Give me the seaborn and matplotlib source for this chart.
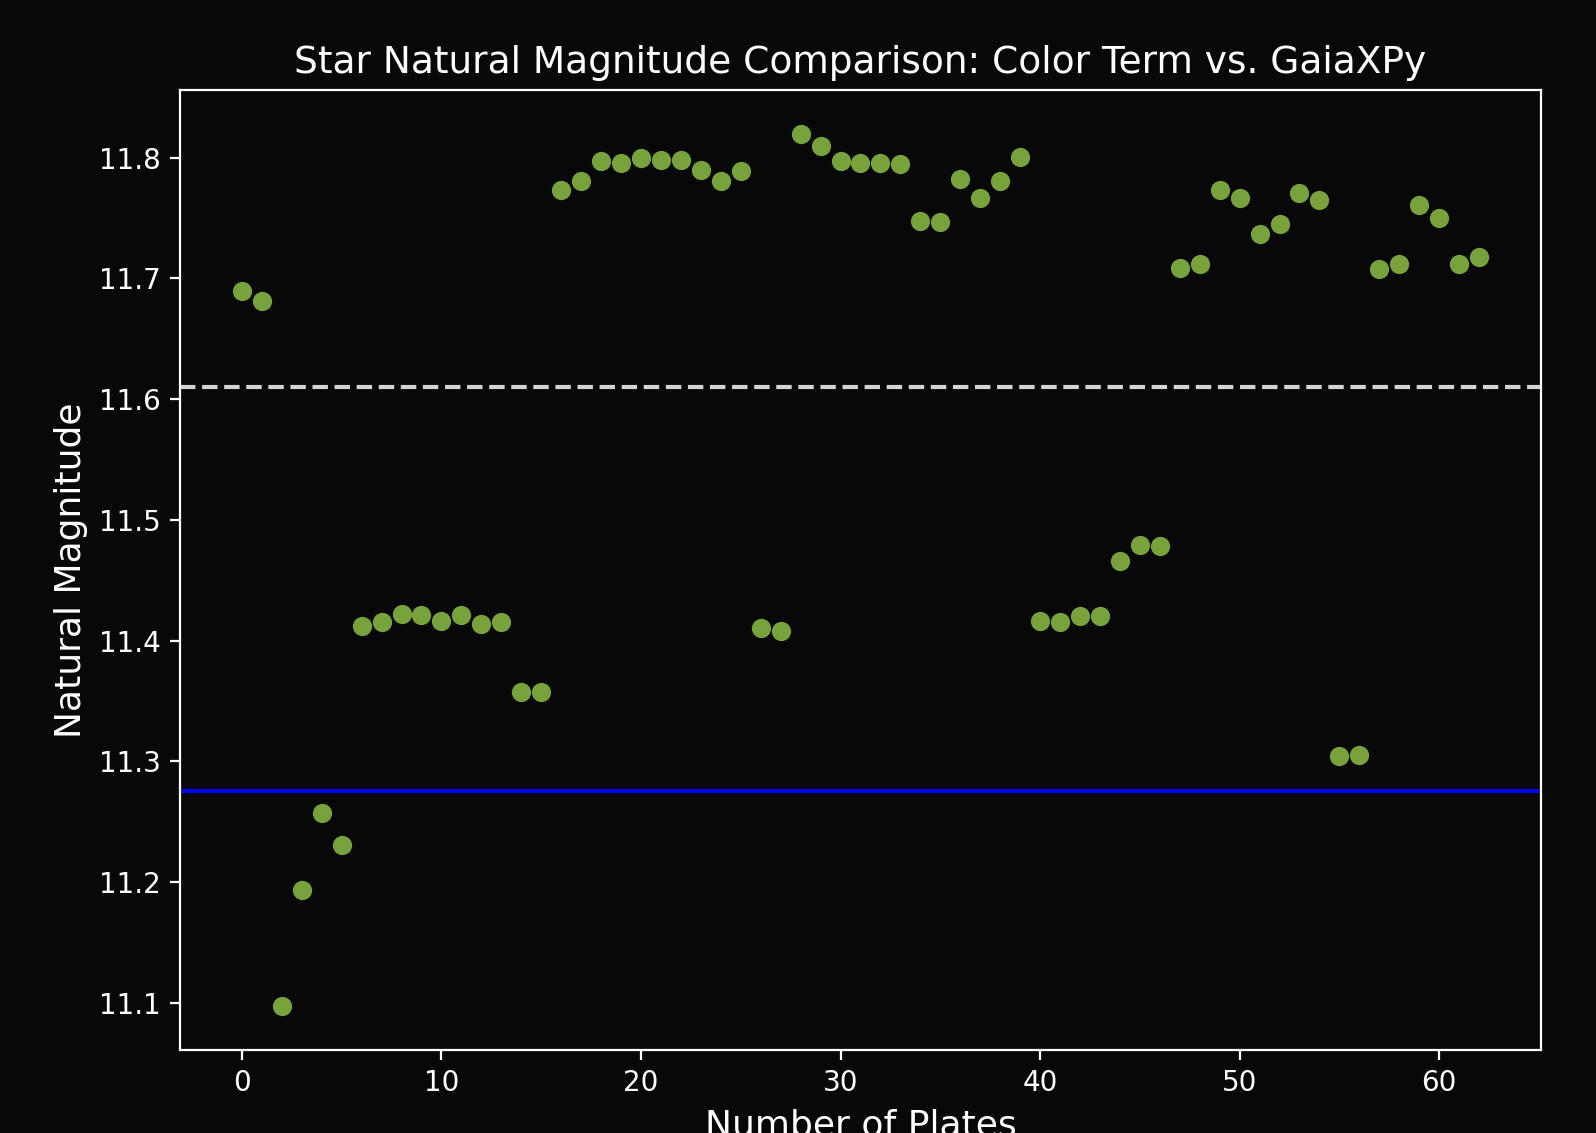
import numpy as np
import pandas as pd
import matplotlib
matplotlib.use("Agg")
import matplotlib.pyplot as plt
import seaborn as sns

plates = list(range(63))
magnitudes = [
    11.690, 11.681, 11.097, 11.193, 11.257, 11.231, 11.412, 11.415, 11.422, 11.421,
    11.416, 11.421, 11.414, 11.415, 11.357, 11.357, 11.773, 11.781, 11.797, 11.796,
    11.800, 11.798, 11.798, 11.790, 11.781, 11.789, 11.410, 11.408, 11.820, 11.810,
    11.797, 11.796, 11.796, 11.795, 11.748, 11.747, 11.782, 11.767, 11.781, 11.801,
    11.416, 11.415, 11.420, 11.420, 11.466, 11.479, 11.478, 11.709, 11.712, 11.773,
    11.767, 11.737, 11.745, 11.771, 11.765, 11.304, 11.305, 11.708, 11.712, 11.761,
    11.750, 11.712, 11.718,
]
colorterm_mean = 11.610
gaiaxpy_value = 11.275

title = "Star Natural Magnitude Comparison: Color Term vs. GaiaXPy"
xlabel = "Number of Plates"
ylabel = "Natural Magnitude"

df = pd.DataFrame({"plate": plates, "mag": magnitudes})

sns.set_style("dark")
plt.rcParams["font.family"] = ["DejaVu Sans"]
bg = "#080808"
fg = "#ffffff"

fig, ax = plt.subplots(figsize=(7.98, 5.665), dpi=200)
fig.patch.set_facecolor(bg)
ax.set_facecolor(bg)

sns.scatterplot(data=df, x="plate", y="mag", ax=ax, color="#78a23c",
                s=48, linewidth=0, zorder=3)
ax.axhline(colorterm_mean, color="#d4d4d4", linestyle="--", linewidth=1.5, zorder=2)
ax.axhline(gaiaxpy_value, color="#0000ff", linestyle="-", linewidth=1.4, zorder=2)

ax.set_title(title, color=fg, fontsize=13.5)
ax.set_xlabel(xlabel, color=fg, fontsize=13)
ax.set_ylabel(ylabel, color=fg, fontsize=13)
ax.grid(False)
for sp in ax.spines.values():
    sp.set_visible(True)
    sp.set_color(fg)
    sp.set_linewidth(0.8)
ax.tick_params(axis="both", colors=fg, labelcolor=fg, labelsize=10,
               length=3.5, width=0.8, direction="out", bottom=True, left=True)
ax.set_xticks([0, 10, 20, 30, 40, 50, 60])
ax.set_yticks([11.1, 11.2, 11.3, 11.4, 11.5, 11.6, 11.7, 11.8])

fig.subplots_adjust(left=0.1128, right=0.9655, top=0.9206, bottom=0.0733)
fig.savefig("out.png", dpi=200, facecolor=bg)
